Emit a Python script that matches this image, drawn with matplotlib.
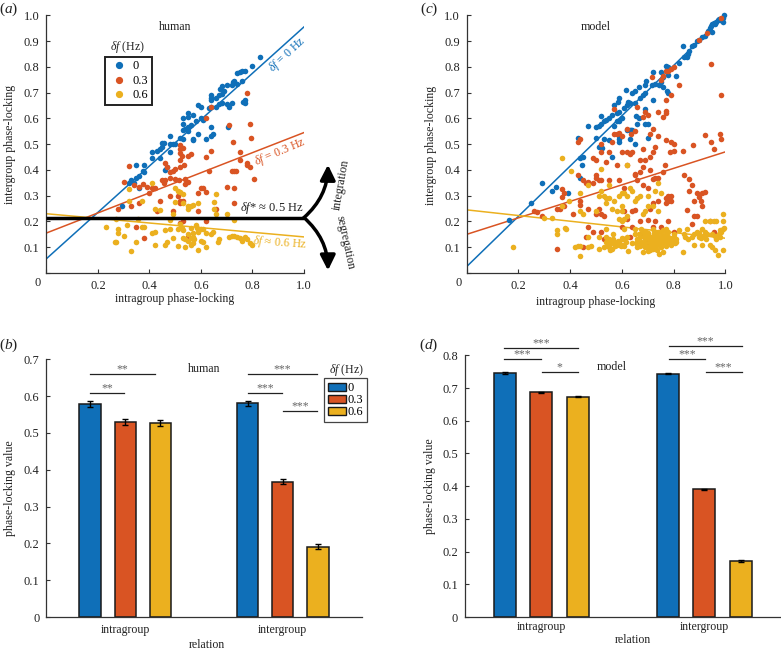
import matplotlib
matplotlib.use('Agg')
import matplotlib.pyplot as plt
from matplotlib.patches import FancyArrowPatch, Patch
from matplotlib.lines import Line2D

plt.rcParams['font.family'] = ['Liberation Serif', 'DejaVu Serif']
plt.rcParams['mathtext.fontset'] = 'custom'
plt.rcParams['mathtext.rm'] = 'Liberation Serif'
plt.rcParams['mathtext.it'] = 'Liberation Serif:italic'

BLUE = '#0f6fb8'
RED = '#d95423'
YELLOW = '#ebb01f'
TEXT = '#222222'

delta_f = ['0', '0.3', '0.6']
relations = ['intragroup', 'intergroup']

# panel a, human scatter
a_blue = [(0.83, 0.84), (0.80, 0.805), (0.77, 0.785), (0.76, 0.785), (0.75, 0.78), (0.74, 0.775),
          (0.76, 0.745), (0.73, 0.745), (0.725, 0.74), (0.72, 0.73), (0.74, 0.735), (0.70, 0.73),
          (0.68, 0.725), (0.675, 0.715), (0.69, 0.705), (0.68, 0.695), (0.67, 0.69), (0.64, 0.69),
          (0.64, 0.68), (0.64, 0.67), (0.66, 0.68), (0.77, 0.67), (0.765, 0.665), (0.77, 0.66),
          (0.72, 0.66), (0.70, 0.655), (0.71, 0.645), (0.68, 0.66), (0.67, 0.655), (0.66, 0.645),
          (0.64, 0.645), (0.63, 0.64), (0.59, 0.65), (0.60, 0.645), (0.55, 0.62), (0.57, 0.615),
          (0.55, 0.605), (0.53, 0.60), (0.60, 0.60), (0.61, 0.595), (0.58, 0.59), (0.53, 0.58),
          (0.56, 0.575), (0.55, 0.565), (0.54, 0.56), (0.53, 0.555), (0.55, 0.55), (0.64, 0.565),
          (0.705, 0.565), (0.59, 0.54), (0.57, 0.52), (0.57, 0.515), (0.52, 0.525), (0.53, 0.52),
          (0.62, 0.52), (0.64, 0.53), (0.645, 0.54), (0.48, 0.53), (0.48, 0.50), (0.49, 0.50),
          (0.50, 0.50), (0.455, 0.505), (0.45, 0.505), (0.45, 0.49), (0.44, 0.48), (0.43, 0.475),
          (0.41, 0.47), (0.48, 0.47), (0.41, 0.445), (0.44, 0.445), (0.38, 0.42), (0.35, 0.42),
          (0.47, 0.41), (0.46, 0.40), (0.375, 0.395), (0.38, 0.39), (0.36, 0.375), (0.35, 0.37),
          (0.33, 0.36), (0.32, 0.35), (0.34, 0.35), (0.36, 0.33), (0.295, 0.26)]
a_red = [(0.78, 0.70), (0.64, 0.645), (0.62, 0.60), (0.79, 0.58), (0.71, 0.575), (0.795, 0.525),
         (0.725, 0.51), (0.52, 0.495), (0.52, 0.48), (0.53, 0.485), (0.52, 0.465), (0.525, 0.455),
         (0.56, 0.46), (0.55, 0.455), (0.64, 0.475), (0.75, 0.47), (0.62, 0.45), (0.75, 0.44),
         (0.52, 0.44), (0.46, 0.425), (0.535, 0.42), (0.78, 0.425), (0.78, 0.42), (0.79, 0.41),
         (0.32, 0.415), (0.47, 0.41), (0.52, 0.41), (0.50, 0.405), (0.49, 0.395), (0.48, 0.39),
         (0.63, 0.395), (0.73, 0.395), (0.72, 0.395), (0.735, 0.395), (0.48, 0.37), (0.50, 0.365),
         (0.515, 0.36), (0.45, 0.36), (0.455, 0.35), (0.46, 0.36), (0.805, 0.365), (0.54, 0.365),
         (0.55, 0.355), (0.54, 0.345), (0.30, 0.355), (0.375, 0.345), (0.34, 0.34), (0.36, 0.335),
         (0.39, 0.335), (0.40, 0.31), (0.42, 0.33), (0.41, 0.33), (0.48, 0.30), (0.51, 0.30),
         (0.60, 0.33), (0.61, 0.33), (0.62, 0.315), (0.59, 0.31), (0.70, 0.335), (0.73, 0.33),
         (0.53, 0.28), (0.52, 0.28), (0.44, 0.28), (0.43, 0.24), (0.36, 0.27), (0.33, 0.26),
         (0.28, 0.25), (0.52, 0.27), (0.59, 0.24), (0.62, 0.20), (0.66, 0.25), (0.73, 0.27),
         (0.49, 0.24), (0.35, 0.18), (0.38, 0.135), (0.52, 0.195), (0.53, 0.20), (0.55, 0.14)]
a_yellow = [(0.41, 0.35), (0.32, 0.325), (0.50, 0.33), (0.51, 0.32), (0.52, 0.315), (0.53, 0.305),
            (0.66, 0.305), (0.32, 0.28), (0.37, 0.28), (0.50, 0.275), (0.53, 0.27), (0.59, 0.27),
            (0.55, 0.26), (0.56, 0.26), (0.57, 0.265), (0.65, 0.275), (0.65, 0.25), (0.42, 0.25),
            (0.44, 0.245), (0.55, 0.25), (0.49, 0.23), (0.70, 0.23), (0.66, 0.23), (0.27, 0.21),
            (0.355, 0.21), (0.73, 0.205), (0.52, 0.19), (0.48, 0.205), (0.23, 0.18), (0.315, 0.185),
            (0.37, 0.18), (0.38, 0.18), (0.28, 0.17), (0.28, 0.155), (0.41, 0.155), (0.42, 0.16),
            (0.46, 0.165), (0.48, 0.17), (0.51, 0.17), (0.525, 0.175), (0.53, 0.165), (0.56, 0.175),
            (0.58, 0.185), (0.585, 0.175), (0.60, 0.17), (0.61, 0.17), (0.59, 0.16), (0.62, 0.155),
            (0.64, 0.15), (0.645, 0.16), (0.57, 0.155), (0.55, 0.15), (0.30, 0.145), (0.27, 0.12),
            (0.265, 0.12), (0.35, 0.12), (0.33, 0.085), (0.42, 0.11), (0.46, 0.11), (0.47, 0.12),
            (0.49, 0.135), (0.51, 0.105), (0.53, 0.135), (0.54, 0.13), (0.55, 0.125), (0.56, 0.135),
            (0.57, 0.14), (0.54, 0.10), (0.56, 0.11), (0.57, 0.115), (0.59, 0.09), (0.62, 0.10),
            (0.61, 0.12), (0.60, 0.125), (0.575, 0.13), (0.665, 0.12), (0.67, 0.13), (0.71, 0.14),
            (0.72, 0.145), (0.73, 0.145), (0.74, 0.14), (0.76, 0.125), (0.77, 0.14), (0.78, 0.13),
            (0.79, 0.115), (0.80, 0.11), (0.75, 0.135)]

# panel c, model scatter
c_blue = [(0.165, 0.205), (0.25, 0.27), (0.29, 0.35), (0.33, 0.32), (0.345, 0.335), (0.39, 0.31),
          (0.44, 0.37), (0.44, 0.445), (0.45, 0.45), (0.445, 0.42), (0.43, 0.525), (0.47, 0.57),
          (0.50, 0.565), (0.51, 0.57), (0.52, 0.58), (0.52, 0.61), (0.53, 0.59), (0.54, 0.595),
          (0.55, 0.60), (0.56, 0.615), (0.57, 0.57), (0.58, 0.62), (0.59, 0.625), (0.58, 0.59),
          (0.59, 0.59), (0.60, 0.60), (0.57, 0.65), (0.585, 0.665), (0.59, 0.68), (0.61, 0.64),
          (0.62, 0.65), (0.625, 0.665), (0.63, 0.66), (0.65, 0.66), (0.615, 0.71), (0.64, 0.70),
          (0.65, 0.705), (0.67, 0.68), (0.68, 0.69), (0.665, 0.72), (0.69, 0.70), (0.69, 0.73),
          (0.695, 0.745), (0.72, 0.78), (0.715, 0.73), (0.73, 0.735), (0.745, 0.73), (0.75, 0.74),
          (0.76, 0.76), (0.75, 0.78), (0.77, 0.805), (0.78, 0.77), (0.76, 0.72), (0.775, 0.705),
          (0.78, 0.70), (0.81, 0.765), (0.78, 0.80), (0.82, 0.815), (0.835, 0.88), (0.84, 0.84),
          (0.85, 0.84), (0.855, 0.85), (0.86, 0.86), (0.87, 0.88), (0.88, 0.885), (0.89, 0.90),
          (0.90, 0.905), (0.91, 0.915), (0.92, 0.92), (0.935, 0.94), (0.94, 0.95), (0.945, 0.96),
          (0.95, 0.965), (0.955, 0.97), (0.96, 0.965), (0.965, 0.975), (0.97, 0.98), (0.975, 0.985),
          (0.98, 0.98), (0.99, 0.99), (0.995, 1.0), (0.99, 0.975), (0.95, 0.935), (0.94, 0.94),
          (0.50, 0.525), (0.51, 0.49), (0.525, 0.485), (0.53, 0.52), (0.55, 0.515), (0.56, 0.45),
          (0.59, 0.52), (0.59, 0.51), (0.59, 0.53), (0.62, 0.555), (0.63, 0.555), (0.63, 0.52),
          (0.635, 0.555), (0.64, 0.555), (0.65, 0.50), (0.655, 0.61), (0.66, 0.58), (0.665, 0.60),
          (0.69, 0.58), (0.70, 0.58), (0.69, 0.635), (0.70, 0.525), (0.72, 0.67)]
c_red = [(0.985, 0.99), (0.93, 0.93), (0.90, 0.905), (0.945, 0.81), (0.985, 0.69), (0.82, 0.73),
         (0.80, 0.80), (0.79, 0.79), (0.78, 0.785), (0.77, 0.785), (0.715, 0.76), (0.76, 0.765),
         (0.75, 0.75), (0.79, 0.69), (0.77, 0.67), (0.77, 0.63), (0.77, 0.62), (0.74, 0.625),
         (0.76, 0.605), (0.69, 0.625), (0.66, 0.645), (0.68, 0.605), (0.70, 0.615), (0.57, 0.635),
         (0.59, 0.545), (0.57, 0.54), (0.58, 0.54), (0.62, 0.56), (0.72, 0.56), (0.71, 0.54),
         (0.74, 0.53), (0.60, 0.53), (0.635, 0.54), (0.65, 0.55), (0.92, 0.535), (0.98, 0.54),
         (0.985, 0.52), (0.945, 0.51), (0.955, 0.48), (0.875, 0.495), (0.835, 0.475), (0.79, 0.51),
         (0.80, 0.50), (0.80, 0.475), (0.785, 0.47), (0.77, 0.515), (0.73, 0.49), (0.72, 0.47),
         (0.71, 0.45), (0.69, 0.44), (0.68, 0.48), (0.67, 0.44), (0.64, 0.47), (0.62, 0.47),
         (0.63, 0.46), (0.60, 0.47), (0.55, 0.47), (0.50, 0.44), (0.52, 0.47), (0.49, 0.445),
         (0.56, 0.51), (0.52, 0.50), (0.43, 0.51), (0.44, 0.52), (0.765, 0.42), (0.76, 0.39),
         (0.71, 0.40), (0.68, 0.41), (0.67, 0.39), (0.65, 0.385), (0.62, 0.42), (0.58, 0.42),
         (0.54, 0.43), (0.50, 0.38), (0.50, 0.37), (0.51, 0.36), (0.45, 0.36), (0.46, 0.35),
         (0.43, 0.38), (0.47, 0.355), (0.49, 0.35), (0.52, 0.36), (0.55, 0.36), (0.59, 0.36),
         (0.61, 0.33), (0.65, 0.38), (0.66, 0.36), (0.68, 0.34), (0.70, 0.33), (0.72, 0.365),
         (0.73, 0.37), (0.74, 0.37), (0.77, 0.29), (0.78, 0.30), (0.79, 0.30), (0.78, 0.28),
         (0.79, 0.28), (0.77, 0.27), (0.84, 0.38), (0.86, 0.365), (0.87, 0.34), (0.89, 0.31),
         (0.91, 0.31), (0.92, 0.315), (0.90, 0.295), (0.905, 0.28), (0.86, 0.32), (0.88, 0.28),
         (0.91, 0.26), (0.88, 0.22), (0.85, 0.245), (0.87, 0.19), (0.89, 0.22), (0.37, 0.325),
         (0.375, 0.31), (0.37, 0.295), (0.35, 0.25), (0.36, 0.25), (0.375, 0.26), (0.26, 0.24),
         (0.27, 0.235), (0.29, 0.22), (0.41, 0.23), (0.44, 0.265), (0.44, 0.28), (0.47, 0.25),
         (0.50, 0.23), (0.51, 0.25), (0.52, 0.23), (0.53, 0.22), (0.61, 0.24), (0.62, 0.21),
         (0.64, 0.24), (0.65, 0.245), (0.67, 0.20), (0.70, 0.205), (0.72, 0.27), (0.74, 0.28),
         (0.71, 0.25), (0.73, 0.20), (0.78, 0.20), (0.80, 0.16), (0.75, 0.18), (0.72, 0.18),
         (0.94, 0.20), (0.955, 0.16), (0.35, 0.095), (0.45, 0.10), (0.46, 0.14), (0.47, 0.18),
         (0.49, 0.16), (0.52, 0.16), (0.53, 0.13), (0.60, 0.18), (0.61, 0.13), (0.63, 0.14),
         (0.64, 0.18), (0.67, 0.15), (0.70, 0.12)]
c_yellow = [(0.37, 0.445), (0.405, 0.395), (0.52, 0.405), (0.62, 0.42), (0.74, 0.35), (0.44, 0.31),
            (0.55, 0.34), (0.47, 0.34), (0.51, 0.30), (0.52, 0.32), (0.53, 0.30), (0.54, 0.29),
            (0.55, 0.29), (0.57, 0.28), (0.59, 0.30), (0.60, 0.31), (0.61, 0.31), (0.62, 0.30),
            (0.63, 0.33), (0.64, 0.32), (0.65, 0.28), (0.66, 0.29), (0.67, 0.30), (0.70, 0.30),
            (0.73, 0.32), (0.75, 0.31), (0.395, 0.28), (0.37, 0.26), (0.44, 0.24), (0.45, 0.23),
            (0.50, 0.24), (0.54, 0.27), (0.56, 0.25), (0.60, 0.24), (0.60, 0.26), (0.58, 0.24),
            (0.59, 0.21), (0.60, 0.20), (0.61, 0.21), (0.62, 0.22), (0.68, 0.23), (0.69, 0.24),
            (0.70, 0.26), (0.72, 0.26), (0.74, 0.24), (0.30, 0.215), (0.33, 0.215), (0.18, 0.10),
            (0.35, 0.165), (0.35, 0.15), (0.38, 0.175), (0.385, 0.17),
            (0.42, 0.10), (0.43, 0.105), (0.44, 0.105), (0.44, 0.065), (0.47, 0.10), (0.48, 0.105),
            (0.47, 0.14), (0.51, 0.14), (0.51, 0.095), (0.53, 0.10), (0.54, 0.17), (0.54, 0.14),
            (0.54, 0.12), (0.55, 0.13), (0.55, 0.10), (0.56, 0.115), (0.565, 0.15), (0.57, 0.12),
            (0.58, 0.11), (0.59, 0.12), (0.60, 0.11), (0.605, 0.13), (0.61, 0.17), (0.62, 0.14),
            (0.625, 0.085), (0.64, 0.115), (0.65, 0.17), (0.65, 0.15), (0.66, 0.13), (0.66, 0.10),
            (0.67, 0.14), (0.675, 0.12), (0.68, 0.08), (0.68, 0.11), (0.68, 0.16), (0.69, 0.13),
            (0.70, 0.10), (0.70, 0.155), (0.705, 0.12), (0.71, 0.14), (0.71, 0.09), (0.72, 0.11),
            (0.72, 0.17), (0.725, 0.13), (0.73, 0.10), (0.73, 0.15), (0.74, 0.12), (0.74, 0.14),
            (0.745, 0.075), (0.75, 0.10), (0.75, 0.16), (0.755, 0.13), (0.76, 0.08), (0.76, 0.12),
            (0.77, 0.15), (0.77, 0.17), (0.78, 0.14), (0.78, 0.12), (0.79, 0.11), (0.80, 0.15),
            (0.81, 0.12), (0.81, 0.13), (0.82, 0.165), (0.835, 0.08), (0.84, 0.15), (0.845, 0.14),
            (0.85, 0.17), (0.855, 0.13), (0.87, 0.14), (0.88, 0.15), (0.88, 0.11), (0.89, 0.16),
            (0.90, 0.14), (0.91, 0.17), (0.91, 0.11), (0.92, 0.16), (0.92, 0.20), (0.93, 0.15),
            (0.94, 0.20), (0.94, 0.11), (0.95, 0.10), (0.955, 0.20), (0.96, 0.09), (0.965, 0.20),
            (0.97, 0.07), (0.975, 0.15), (0.98, 0.14), (0.985, 0.16), (0.99, 0.17), (0.99, 0.20),
            (0.99, 0.23), (0.99, 0.09), (0.995, 0.175),
            # dense cloud under the fit lines
            (0.545, 0.105), (0.55, 0.115), (0.555, 0.09), (0.56, 0.095), (0.565, 0.13), (0.575, 0.105),
            (0.585, 0.125), (0.595, 0.105), (0.60, 0.135), (0.61, 0.105), (0.615, 0.12), (0.655, 0.115),
            (0.665, 0.15), (0.67, 0.105), (0.675, 0.17), (0.685, 0.145), (0.69, 0.10), (0.69, 0.115),
            (0.695, 0.16), (0.70, 0.135), (0.70, 0.085), (0.705, 0.145), (0.71, 0.105), (0.715, 0.125),
            (0.72, 0.14), (0.72, 0.095), (0.725, 0.155), (0.73, 0.115), (0.735, 0.13), (0.735, 0.09),
            (0.74, 0.16), (0.745, 0.11), (0.75, 0.14), (0.755, 0.115), (0.76, 0.145), (0.76, 0.165),
            (0.765, 0.13), (0.77, 0.105), (0.775, 0.125), (0.78, 0.16), (0.785, 0.135), (0.795, 0.125),
            (0.80, 0.14), (0.805, 0.115), (0.90, 0.155), (0.905, 0.135), (0.915, 0.145), (0.925, 0.13),
            (0.95, 0.15), (0.96, 0.145), (0.965, 0.13), (0.98, 0.165)]

# fit lines, value at x=0 and at x=1
a_fit = [(0.055, 0.955), (0.155, 0.545), (0.23, 0.14)]
c_fit = [(0.025, 1.0), (0.15, 0.47), (0.245, 0.135)]

# bars: intragroup then intergroup for each delta f
b_values = [[0.578, 0.580], [0.530, 0.368], [0.528, 0.191]]
b_errors = [[0.008, 0.007], [0.008, 0.007], [0.008, 0.007]]
d_values = [[0.746, 0.744], [0.687, 0.390], [0.673, 0.171]]
d_errors = [[0.002, 0.002], [0.002, 0.002], [0.002, 0.002]]

# significance bars: x start, x end, height, stars
b_sig = [(0.778, 1.19, 0.66, '**'), (0.778, 0.995, 0.609, '**'),
         (1.778, 2.215, 0.66, '***'), (1.778, 1.995, 0.609, '***'), (2.0, 2.215, 0.56, '***')]
d_sig = [(0.773, 1.223, 0.822, '***'), (0.773, 0.996, 0.788, '***'), (1.002, 1.223, 0.749, '*'),
         (1.783, 2.229, 0.8275, '***'), (1.783, 2.004, 0.788, '***'), (2.008, 2.229, 0.748, '***')]

colors = [BLUE, RED, YELLOW]
W, H = 781, 651
FS = 8.6
TICK_FS = 8.9

fig = plt.figure(figsize=(W / 100, H / 100), dpi=100)


def axes_px(left, right, top, bottom):
    return fig.add_axes([left / W, 1 - bottom / H, (right - left) / W, (bottom - top) / H])


def label_px(x, y, s, **kw):
    kw.setdefault('fontsize', FS)
    kw.setdefault('color', TEXT)
    kw.setdefault('ha', 'center')
    kw.setdefault('va', 'center')
    return fig.text(x / W, 1 - y / H, s, **kw)


def style(ax):
    for side in ['top', 'right']:
        ax.spines[side].set_visible(False)
    for side in ['left', 'bottom']:
        ax.spines[side].set_color('#333333')
        ax.spines[side].set_linewidth(0.9)
    ax.tick_params(direction='in', length=3, width=0.8, color='#333333',
                   labelsize=TICK_FS, labelcolor=TEXT, pad=5)


def scatter_panel(ax, groups, fits):
    for pts, fit, col in zip(groups, fits, colors):
        ax.plot([0, 1], fit, color=col, lw=1.1, zorder=2)
        ax.scatter([p[0] for p in pts], [p[1] for p in pts], s=16, color=col,
                   linewidths=0, zorder=3, clip_on=False)
    ax.set_xlim(0, 1)
    ax.set_ylim(0, 1)
    ax.set_xticks([0, 0.2, 0.4, 0.6, 0.8, 1.0])
    ax.set_xticklabels(['', '0.2', '0.4', '0.6', '0.8', '1.0'])
    ax.set_yticks([0, 0.1, 0.2, 0.3, 0.4, 0.5, 0.6, 0.7, 0.8, 0.9, 1.0])
    ax.set_yticklabels([''] + ['%.1f' % (i / 10) for i in range(1, 11)])
    style(ax)


def bar_panel(ax, values, errors, sig, offset):
    for i, col in enumerate(colors):
        xs = [1 + (i - 1) * offset, 2 + (i - 1) * offset]
        ax.bar(xs, values[i], width=0.135, color=col, edgecolor='#1a1a1a', linewidth=1.1, zorder=2)
        ax.errorbar(xs, values[i], yerr=errors[i], fmt='none', ecolor='black',
                    elinewidth=1, capsize=2.2, capthick=1, zorder=3)
    style(ax)
    ax.set_xticks([1, 2])
    ax.set_xticklabels(relations, fontsize=FS)
    for x0, x1, y, stars in sig:
        ax.plot([x0, x1], [y, y], color='#222222', lw=0.9, clip_on=False, zorder=4)
        ax.annotate(stars, ((x0 + x1) / 2, y), xytext=(0, -1), textcoords='offset points',
                    ha='center', va='bottom', fontsize=8.5, color='#666666', annotation_clip=False)


# (a)
ax_a = axes_px(46.3, 304, 15.3, 273)
scatter_panel(ax_a, [a_blue, a_red, a_yellow], a_fit)
ax_a.plot([0, 1], [0.215, 0.215], color='black', lw=2.5, zorder=5, solid_capstyle='butt')
for end, rad in [((1.093, 0.42), 0.22), ((1.093, 0.01), -0.22)]:
    ax_a.add_patch(FancyArrowPatch((1.0, 0.215), end, connectionstyle='arc3,rad=%.2f' % rad,
                                   arrowstyle='-|>,head_length=9,head_width=4.5', lw=2.5,
                                   color='black', clip_on=False, zorder=6, shrinkA=0, shrinkB=0))
leg_a = ax_a.legend(handles=[Line2D([], [], ls='', marker='o', ms=4.2, color=c, label=l)
                             for c, l in zip(colors, delta_f)],
                    loc='upper left', bbox_to_anchor=((105 - 46.3) / 257.7, 1 - (56.7 - 15.3) / 257.7),
                    borderaxespad=0, frameon=True, fancybox=False, framealpha=1, edgecolor='#222222',
                    fontsize=TICK_FS, handletextpad=0.3, labelspacing=0.2, borderpad=0.3,
                    handlelength=1.6)
leg_a.get_frame().set_linewidth(1.4)
label_px(128, 47, r'$\delta f$ (Hz)')
label_px(175, 27, 'human')
label_px(38, 283, '0', fontsize=TICK_FS)
label_px(175, 299, 'intragroup phase-locking')
label_px(10, 144, 'intergroup phase-locking', rotation=90)
label_px(9, 9, r'($\mathit{a}$)', fontsize=11)
label_px(272, 208, r'$\delta f$* ≈ 0.5 Hz', fontsize=9)
label_px(287, 55, r'$\delta f$ = 0 Hz', color=BLUE, rotation=43)
label_px(280, 152, r'$\delta f$ = 0.3 Hz', color=RED, rotation=23)
label_px(280, 243, r'$\delta f$ ≈ 0.6 Hz', color=YELLOW, rotation=-4)
label_px(341, 185, 'integration', rotation=80)
label_px(345, 243, 'segregation', rotation=-78)

# (c)
ax_c = axes_px(466.7, 725.3, 15.3, 273)
scatter_panel(ax_c, [c_blue, c_red, c_yellow], c_fit)
label_px(596, 27, 'model')
label_px(459, 283, '0', fontsize=TICK_FS)
label_px(596, 302, 'intragroup phase-locking')
label_px(431, 145, 'intergroup phase-locking', rotation=90)
label_px(429, 9, r'($\mathit{c}$)', fontsize=11)

# (b)
ax_b = axes_px(46.3, 361.7, 359.3, 617)
bar_panel(ax_b, b_values, b_errors, b_sig, 0.222)
ax_b.set_xlim(0.5, 2.5)
ax_b.set_ylim(0, 0.7)
ax_b.set_yticks([0, 0.1, 0.2, 0.3, 0.4, 0.5, 0.6, 0.7])
ax_b.set_yticklabels(['0'] + ['%.1f' % (i / 10) for i in range(1, 8)])
leg = ax_b.legend(handles=[Patch(facecolor=c, edgecolor='#1a1a1a', label=l)
                           for c, l in zip(colors, delta_f)],
                  loc='upper left', bbox_to_anchor=((324 - 46.3) / 315.4, 1 - (378.5 - 359.3) / 257.7),
                  borderaxespad=0, frameon=True, fancybox=False, framealpha=1, edgecolor='#444444',
                  fontsize=TICK_FS, handletextpad=0.15, labelspacing=0.0, borderpad=0.3,
                  handlelength=1.45, handleheight=0.7)
leg.get_frame().set_linewidth(0.9)
label_px(347, 370, r'$\delta f$ (Hz)')
label_px(204, 369, 'human')
label_px(207, 645, 'relation')
label_px(10, 488, 'phase-locking value', rotation=90)
label_px(9, 345, r'($\mathit{b}$)', fontsize=11)

# (d)
ax_d = axes_px(465, 781, 355.3, 617)
bar_panel(ax_d, d_values, d_errors, d_sig, 0.223)
ax_d.tick_params(axis='x', pad=3)
ax_d.set_xlim(0.532, 2.47)
ax_d.set_ylim(0, 0.8)
ax_d.set_yticks([0, 0.1, 0.2, 0.3, 0.4, 0.5, 0.6, 0.7, 0.8])
ax_d.set_yticklabels(['0'] + ['%.1f' % (i / 10) for i in range(1, 9)])
label_px(612, 367, 'model')
label_px(633, 640, 'relation')
label_px(430, 486, 'phase-locking value', rotation=90)
label_px(429, 345, r'($\mathit{d}$)', fontsize=11)

fig.savefig('out.png', dpi=100)
